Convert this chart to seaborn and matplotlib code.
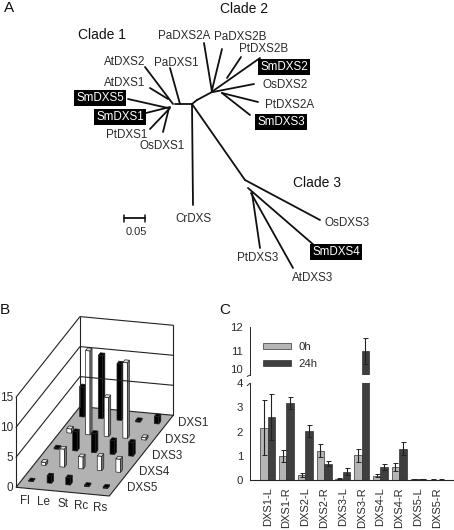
import matplotlib
matplotlib.use("Agg")
import matplotlib.pyplot as plt
import numpy as np
import pandas as pd
import seaborn as sns

W, H = 454, 530
TEXT = "#2b2b2b"

# panel A, positions in pixels
TREE_EDGES = [
    ((175, 104), (192, 104)), ((180, 104), (170, 68)), ((173, 104), (145, 67)),
    ((168, 99), (150, 88)), ((168, 108), (128, 99)), ((170, 107), (146, 113)),
    ((170, 108), (150, 129)), ((169, 108), (163, 132)), ((192, 104), (193, 205)),
    ((192, 104), (245, 180)), ((245, 180), (320, 220)), ((248, 188), (315, 246)),
    ((251, 193), (293, 268)), ((252, 193), (260, 248)), ((192, 104), (197, 100)),
    ((197, 100), (212, 92)), ((212, 92), (204, 43)), ((212, 90), (222, 49)),
    ((227, 78), (241, 57)), ((213, 91), (260, 58)), ((213, 92), (254, 84)),
    ((222, 93), (258, 102)), ((222, 93), (250, 115)),
]
TREE_LABELS = [
    ("PaDXS2A", 184, 36, False), ("PaDXS2B", 240, 37, False), ("PtDXS2B", 264, 49, False),
    ("SmDXS2", 284, 67, True), ("OsDXS2", 285, 85, False), ("PtDXS2A", 290, 105, False),
    ("SmDXS3", 281, 122, True), ("AtDXS2", 125, 62, False), ("PaDXS1", 176, 63, False),
    ("AtDXS1", 125, 83, False), ("SmDXS5", 100, 98, True), ("SmDXS1", 120, 117, True),
    ("PtDXS1", 127, 135, False), ("OsDXS1", 162, 146, False), ("CrDXS", 193, 219, False),
    ("OsDXS3", 347, 223, False), ("SmDXS4", 336, 252, True), ("PtDXS3", 258, 258, False),
    ("AtDXS3", 313, 278, False),
]
CLADE_LABELS = [("Clade 1", 102, 35), ("Clade 2", 244, 9), ("Clade 3", 317, 183)]

# panel B
TISSUES = ["Fl", "Le", "St", "Rc", "Rs"]
GENES_B = ["DXS1", "DXS2", "DXS3", "DXS4", "DXS5"]
DXS1_LEVEL = [5.0, 10.5, 9.4, 0.25, 1.2]
DXS2_LEVEL = [0.7, 14.0, 6.5, 12.6, 0.4]
DXS3_LEVEL = [0.2, 3.2, 3.2, 2.3, 2.3]
DXS4_LEVEL = [0.5, 3.0, 2.0, 2.4, 2.2]
DXS5_LEVEL = [0.1, 1.2, 1.2, 0.2, 0.2]
LEVELS = [DXS1_LEVEL, DXS2_LEVEL, DXS3_LEVEL, DXS4_LEVEL, DXS5_LEVEL]
FILLS = ["black", "white", "black", "white", "black"]
Z_TICKS = [0, 5, 10, 15]

# panel C
SAMPLES = ["DXS1-L", "DXS1-R", "DXS2-L", "DXS2-R", "DXS3-L",
           "DXS3-R", "DXS4-L", "DXS4-R", "DXS5-L", "DXS5-R"]
MEAN_0H = [2.17, 1.0, 0.2, 1.22, 0.05, 1.02, 0.18, 0.53, 0.03, 0.02]
ERR_0H = [1.12, 0.25, 0.07, 0.27, 0.02, 0.28, 0.07, 0.17, 0.01, 0.01]
MEAN_24H = [2.6, 3.2, 2.02, 0.68, 0.35, 11.0, 0.53, 1.3, 0.05, 0.02]
ERR_24H = [0.95, 0.25, 0.25, 0.1, 0.13, 0.53, 0.12, 0.27, 0.01, 0.01]


def px_axes(fig, x0, y0, x1, y1):
    return fig.add_axes([x0 / W, 1 - y1 / H, (x1 - x0) / W, (y1 - y0) / H])


def draw_tree(ax):
    for a, b in TREE_EDGES:
        ax.plot([a[0], b[0]], [a[1], b[1]], color="#101010", lw=1.3, solid_capstyle="round")
    for name, x, y, hl in TREE_LABELS:
        if hl:
            ax.text(x, y, name, ha="center", va="center", fontsize=8.4, color="white",
                    bbox=dict(facecolor="black", edgecolor="none", pad=1.8))
        else:
            ax.text(x, y, name, ha="center", va="center", fontsize=8.4, color=TEXT)
    for name, x, y in CLADE_LABELS:
        ax.text(x, y, name, ha="center", va="center", fontsize=10, color="#111111")
    # scale bar
    ax.plot([124, 145], [218, 218], color="#101010", lw=1.3)
    ax.plot([124, 124], [215, 222], color="#101010", lw=1.1)
    ax.plot([145, 145], [215, 222], color="#101010", lw=1.1)
    ax.text(136, 232, "0.05", ha="center", va="center", fontsize=8, color=TEXT)


def project(u, v, z=0):
    # u along the tissues, v from the front row to the back, z expression
    x = 16 + u * 93.3 + v * 64
    y = 192.3 + 295 + u * 8.7 - v * 80.7 - z * 6
    return x, y


def draw_box(ax, u, v, z, fill):
    du, dv = 0.024, 0.016
    corners = lambda a, b, h: project(u + a * du, v + b * dv, h)
    front = [corners(-1, -1, 0), corners(1, -1, 0), corners(1, -1, z), corners(-1, -1, z)]
    side = [corners(1, -1, 0), corners(1, 1, 0), corners(1, 1, z), corners(1, -1, z)]
    top = [corners(-1, -1, z), corners(1, -1, z), corners(1, 1, z), corners(-1, 1, z)]
    if fill == "white":
        colors = ["white", "#777777", "#dddddd"]
    else:
        colors = ["black", "black", "black"]
    for poly, col in zip([front, side, top], colors):
        ax.fill(*zip(*poly), facecolor=col, edgecolor="#222222", lw=0.5)


def draw_3d(ax):
    corners = [project(0, 0), project(1, 0), project(1, 1), project(0, 1)]
    ax.fill(*zip(*corners), facecolor="#b2b2b2", edgecolor="#222222", lw=0.8)
    top = Z_TICKS[-1]
    for a in [(0, 0), (0, 1), (1, 1)]:
        p, q = project(a[0], a[1]), project(a[0], a[1], top)
        ax.plot([p[0], q[0]], [p[1], q[1]], color="#222222", lw=0.8)
    for z in Z_TICKS[1:]:
        pts = [project(0, 0, z), project(0, 1, z), project(1, 1, z)]
        ax.plot(*zip(*pts), color="#222222", lw=0.8)
    for z in Z_TICKS:
        x, y = project(0, 0, z)
        ax.text(x - 3, y + 0.5, str(z), ha="right", va="center", fontsize=8.5, color=TEXT)

    n = len(GENES_B)
    for row in range(n):
        v = 1 - (row + 0.5) / n
        for i in range(len(TISSUES)):
            draw_box(ax, (i + 0.5) / n, v, LEVELS[row][i], FILLS[row])
        x, y = project(1, v)
        ax.text(x + 11, y, GENES_B[row], ha="left", va="center", fontsize=8.4, color=TEXT)
    for i, name in enumerate(TISSUES):
        x, y = project((i + 0.5) / n, 0)
        ax.text(x, y + 12.5, name, ha="center", va="center", fontsize=8.4, color=TEXT)


def draw_bars(ax_top, ax_low):
    data = pd.DataFrame({
        "sample": SAMPLES * 2,
        "level": MEAN_0H + MEAN_24H,
        "time": ["0h"] * len(SAMPLES) + ["24h"] * len(SAMPLES),
    })
    errs = ERR_0H + ERR_24H
    for ax in (ax_top, ax_low):
        sns.barplot(data=data, x="sample", y="level", hue="time", order=SAMPLES,
                    palette=["#b5b5b5", "#3f3f3f"], edgecolor="#333333", linewidth=0.5,
                    errorbar=None, legend=False, saturation=1, ax=ax)
        patches = [p for c in ax.containers for p in c]
        xs = [p.get_x() + p.get_width() / 2 for p in patches]
        ax.errorbar(xs, data["level"], yerr=errs, fmt="none", ecolor="#222222",
                    elinewidth=0.8, capsize=1.8, capthick=0.7)
        ax.set_xlim(-0.94, 9.86)
        ax.set_xlabel("")
        ax.set_ylabel("")
        ax.tick_params(axis="y", direction="in", length=3, width=0.7, pad=5, labelsize=8.2,
                       labelcolor=TEXT, color="#333333")
        sns.despine(ax=ax, top=True, right=True)
        ax.spines["left"].set_linewidth(0.7)
        ax.spines["bottom"].set_linewidth(0.8)

    ax_low.set_ylim(0, 4)
    ax_low.set_yticks([0, 1, 2, 3, 4])
    ax_low.set_xticks(range(len(SAMPLES)))
    ax_low.set_xticklabels(SAMPLES, rotation=90, fontsize=8, color=TEXT)
    ax_low.tick_params(axis="x", length=0, pad=5)

    ax_top.set_ylim(10, 12)
    ax_top.set_yticks([10, 11, 12])
    ax_top.spines["bottom"].set_visible(False)
    ax_top.tick_params(axis="x", bottom=False, labelbottom=False)
    # keep the 10 clear of the 4 just below it
    ax_top.get_yticklabels()[0].set_verticalalignment("bottom")

    # axis break marks
    for ax, yy, drop in ((ax_top, 10, 0.06), (ax_low, 4, 0.1)):
        tr = ax.get_yaxis_transform()
        ax.plot([-0.014, 0], [yy - drop, yy], transform=tr,
                color="#333333", lw=0.7, clip_on=False)

    handles = [plt.Rectangle((0, 0), 1, 1, facecolor=c, edgecolor="#333333", lw=0.5)
               for c in ["#b5b5b5", "#3f3f3f"]]
    ax_top.legend(handles, ["0h", "24h"], loc="upper left", bbox_to_anchor=(0.064, 0.68),
                  frameon=False, fontsize=8.2, labelcolor=TEXT, handlelength=2.45,
                  handleheight=0.45, labelspacing=0.6, handletextpad=0.7,
                  borderpad=0, borderaxespad=0)


def main():
    sns.set_theme(style="white")
    plt.rcParams["font.family"] = ["Liberation Sans", "DejaVu Sans"]
    fig = plt.figure(figsize=(W / 100, H / 100), dpi=100)

    canvas = px_axes(fig, 0, 0, W, H)
    canvas.set_xlim(0, W)
    canvas.set_ylim(H, 0)
    canvas.axis("off")
    draw_tree(canvas)
    draw_3d(canvas)
    for name, x, y in [("A", 9, 8), ("B", 5, 310), ("C", 225, 310)]:
        canvas.text(x, y, name, ha="center", va="center", fontsize=11, color="#111111")

    ax_top = px_axes(fig, 250, 326.7, 453, 375)
    ax_low = px_axes(fig, 250, 383.3, 453, 480)
    draw_bars(ax_top, ax_low)

    fig.savefig("out.png", dpi=100)


if __name__ == "__main__":
    main()
